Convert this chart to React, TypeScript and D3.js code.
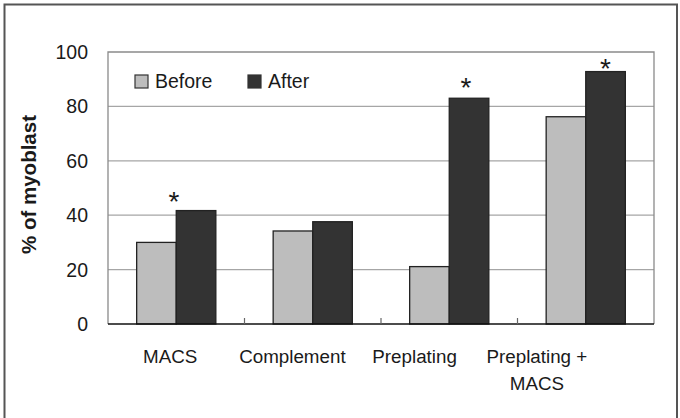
import React from "react";
import * as d3 from "d3";

// Myoblast purity before and after each enrichment method
const categories = ["MACS", "Complement", "Preplating", "Preplating + MACS"];
const categoryLines = [["MACS"], ["Complement"], ["Preplating"], ["Preplating +", "MACS"]];
const seriesNames = ["Before", "After"];
const beforeValues = [30, 34.2, 21.1, 76.2];
const afterValues = [41.7, 37.6, 83.0, 92.8];
const yTicks = [0, 20, 40, 60, 80, 100];
const significant = ["MACS", "Preplating", "Preplating + MACS"];

const W = 680;
const H = 418;
const plot = { left: 108, top: 52, right: 654, bottom: 324 };
const font = "Arial, 'Liberation Sans', Helvetica, sans-serif";
const colors: Record<string, string> = { Before: "#bdbdbd", After: "#333333" };
// nudges for the significance marks, relative to the After bar
const starNudge: Record<string, [number, number]> = {
  MACS: [-22, -16],
  Preplating: [-3, -17],
  "Preplating + MACS": [0, -10],
};

export default function App() {
  const y = d3.scaleLinear().domain([0, 100]).range([plot.bottom, plot.top]);
  const x = d3
    .scaleBand<string>()
    .domain(categories)
    .range([plot.left, plot.right])
    .paddingInner(0.42)
    .paddingOuter(0.21);
  const xs = d3.scaleBand<string>().domain(seriesNames).range([0, x.bandwidth()]);
  const xl = d3.scalePoint<string>().domain(categories).range([109, 598]).padding(0.5);
  const step = (plot.right - plot.left) / categories.length;

  const rows = categories.map((c, i) => ({ c, Before: beforeValues[i], After: afterValues[i] }));

  return (
    <svg width={W} height={H} style={{ display: "block", position: "absolute", left: 0, top: 0 }}>
      <rect x={0} y={0} width={W} height={H} fill="#fff" />
      {/* outer frame, open at the bottom */}
      <path d={`M4.5,${H} V4.5 H677 V${H}`} fill="none" stroke="#555" strokeWidth={2} />

      {/* gridlines */}
      {yTicks.slice(1, -1).map((t) => (
        <line key={t} x1={plot.left} x2={plot.right} y1={y(t)} y2={y(t)} stroke="#a6a6a6" strokeWidth={1.3} />
      ))}
      {/* plot area border */}
      <path
        d={`M${plot.left},${plot.bottom} V${plot.top} H${plot.right} V${plot.bottom}`}
        fill="none"
        stroke="#8a8a8a"
        strokeWidth={1.3}
      />

      {/* bars */}
      {rows.map((r) =>
        seriesNames.map((s) => {
          const v = (r as any)[s] as number;
          return (
            <rect
              key={r.c + s}
              x={(x(r.c) as number) + (xs(s) as number)}
              y={y(v)}
              width={xs.bandwidth()}
              height={y(0) - y(v)}
              fill={colors[s]}
              stroke="#222"
              strokeWidth={1.3}
            />
          );
        })
      )}

      {/* x axis */}
      <line x1={plot.left} x2={plot.right} y1={plot.bottom} y2={plot.bottom} stroke="#111" strokeWidth={1.5} />
      {d3.range(1, categories.length).map((i) => (
        <line
          key={i}
          x1={plot.left + step * i}
          x2={plot.left + step * i}
          y1={plot.bottom}
          y2={plot.bottom - 6}
          stroke="#666"
          strokeWidth={1.2}
        />
      ))}

      {/* y tick labels */}
      {yTicks.map((t) => (
        <text
          key={t}
          x={88}
          y={y(t)}
          dy="0.36em"
          textAnchor="end"
          fontFamily={font}
          fontSize={19.5}
          fill="#1a1a1a"
        >
          {t}
        </text>
      ))}

      {/* y axis title */}
      <text
        transform={`translate(36,${(112 + 257) / 2}) rotate(-90)`}
        textAnchor="middle"
        fontFamily={font}
        fontSize={20.5}
        fontWeight="bold"
        fill="#1a1a1a"
      >
        % of myoblast
      </text>

      {/* category labels */}
      {categories.map((c, i) => (
        <text key={c} textAnchor="middle" fontFamily={font} fontSize={18.8} fill="#1a1a1a">
          {categoryLines[i].map((ln, j) => (
            <tspan key={j} x={xl(c)} y={363 + j * 27}>
              {ln}
            </tspan>
          ))}
        </text>
      ))}

      {/* significance marks */}
      {significant.map((c) => {
        const i = categories.indexOf(c);
        const cx = (x(c) as number) + (xs("After") as number) + xs.bandwidth() / 2 + starNudge[c][0];
        const cy = y(afterValues[i]) + starNudge[c][1];
        return (
          <text key={c} x={cx} y={cy + 16} textAnchor="middle" fontFamily={font} fontSize={28} fill="#1a1a1a">
            *
          </text>
        );
      })}

      {/* legend */}
      {seriesNames.map((s, i) => {
        const lx = 135 + i * 113;
        return (
          <g key={s}>
            <rect x={lx} y={75} width={13} height={13} fill={colors[s]} stroke="#333" strokeWidth={1.2} />
            <text x={lx + 20} y={88} fontFamily={font} fontSize={19.5} fill="#1a1a1a">
              {s}
            </text>
          </g>
        );
      })}
    </svg>
  );
}
